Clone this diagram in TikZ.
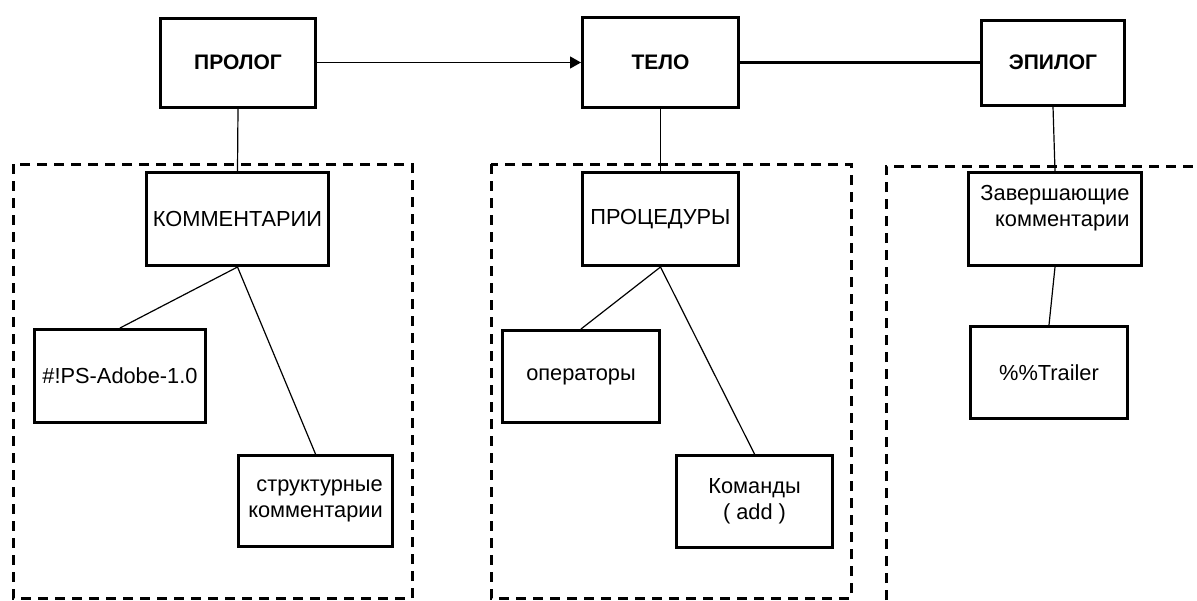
\documentclass[tikz,border=0pt]{standalone}
\usepackage{fontspec}
\setmainfont{Liberation Sans}
\usetikzlibrary{arrows.meta}

\begin{document}
\begin{tikzpicture}[x=1pt,y=-1pt]
    \tikzstyle{part}=[rectangle,draw,line width=3pt,font=\fontsize{21}{26}\selectfont\bfseries]
    \tikzstyle{item}=[rectangle,draw,line width=3pt,font=\fontsize{21.8}{26}\selectfont]
    \tikzstyle{link}=[line width=1.2pt]
    \tikzstyle{group}=[line width=3pt,dash pattern=on 10pt off 7pt]
    \useasboundingbox (0,0) rectangle (1197,600);

    \draw[group] (13,164) rectangle (412,598);
    \draw[group] (491,164) rectangle (851,598);
    \draw[group] (886,600) -- (886,166) -- (1197,166);

    \node[part, minimum width=155pt, minimum height=89pt] (prolog) at (238,62.5) {ПРОЛОГ};
    \node[part, minimum width=156pt, minimum height=90pt] (telo) at (660.5,62.5) {ТЕЛО};
    \node[part, minimum width=143pt, minimum height=85pt] (epilog) at (1053,62.5) {ЭПИЛОГ};

    \node[item, minimum width=182pt, minimum height=93pt] (comments) at (237.5,219) {КОММЕНТАРИИ};
    \node[item, minimum width=156pt, minimum height=93pt] (procs) at (660.5,219) {ПРОЦЕДУРЫ};
    \node[item, minimum width=173pt, minimum height=93pt, align=right] (closing) at (1055,219)
        {Завершающие\\комментарии\\~};

    \node[item, minimum width=171pt, minimum height=93pt] (adobe) at (120,376) {\#!PS-Adobe-1.0};
    \node[item, minimum width=154pt, minimum height=91pt, align=right] (struct) at (315.5,501)
        {структурные\\комментарии};
    \node[item, minimum width=157pt, minimum height=92pt] (ops) at (581,376.5) {операторы};
    \node[item, minimum width=156pt, minimum height=92pt, align=center] (cmds) at (754.5,501.5)
        {Команды\\( add )};
    \node[item, minimum width=157pt, minimum height=92pt] (trailer) at (1049,372.5) {\%\%Trailer};

    \draw[link, -{Triangle[length=11pt,width=12pt]}] (prolog.east) -- (telo.west);
    \draw[line width=3pt] (telo) -- (epilog);

    \draw[link] (prolog.south) -- (comments.north);
    \draw[link] (telo.south) -- (procs.north);
    \draw[link] (epilog.south) -- (closing.north);

    \draw[link] (comments.south) -- (adobe.north);
    \draw[link] (comments.south) -- (struct.north);
    \draw[link] (procs.south) -- (ops.north);
    \draw[link] (procs.south) -- (cmds.north);
    \draw[link] (closing.south) -- (trailer.north);

\end{tikzpicture}
\end{document}
